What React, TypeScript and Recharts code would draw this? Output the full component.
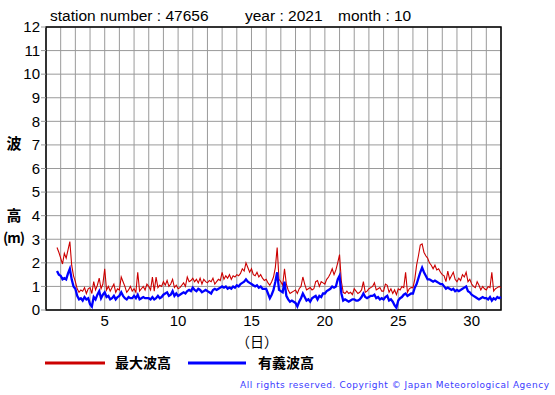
import { LineChart, Line, XAxis, YAxis, CartesianGrid, ReferenceArea } from "recharts";

// 3-hourly samples, first one at day 1 18:00
const startDay = 1.75;
const stepDay = 0.125;

// 最大波高 (m)
const maxWave = [
  2.65, 2.45,
  2.2, 1.95, 2.4, 2.2, 2.55, 2.9, 1.9, 1.45,
  1.2, 0.9, 0.75, 0.85, 0.8, 0.95, 0.7, 0.9,
  0.95, 0.7, 1.2, 0.85, 1.05, 1.35, 0.9, 1.1,
  1.75, 0.85, 1.0, 0.8, 0.95, 1.1, 0.75, 0.9,
  0.85, 1.4, 1.2, 1.0, 0.75, 0.85, 1.0, 0.8,
  0.9, 0.75, 1.6, 0.8, 0.9, 1.0, 0.85, 1.1,
  1.0, 0.85, 1.4, 0.8, 1.4, 0.95, 1.05, 1.0,
  1.2, 1.05, 1.25, 1.0, 1.1, 1.3, 0.95, 1.05,
  0.9, 0.95, 1.05, 1.15, 1.0, 1.4, 1.2, 1.25,
  1.35, 1.2, 1.3, 1.15, 1.35, 1.1, 1.3, 1.2,
  1.15, 1.25, 1.2, 1.35, 1.1, 1.2, 1.3, 1.25,
  1.6, 1.3, 1.45, 1.35, 1.5, 1.3, 1.45, 1.4,
  1.5, 1.45, 1.55, 1.75, 1.65, 2.0, 1.8, 1.6,
  1.75, 1.5, 1.45, 1.6, 1.4, 1.5, 1.35, 1.25,
  1.3, 1.15, 1.05, 1.2, 1.4, 1.8, 2.65, 1.3,
  1.2, 1.05, 1.75, 1.1, 0.85, 0.7, 0.75, 0.8,
  0.85, 0.7, 0.9, 1.0, 1.4, 1.1, 0.85, 0.9,
  0.95, 0.85, 0.9, 1.2, 1.25, 1.0, 1.2, 1.15,
  1.1, 1.3, 1.4, 1.55, 1.75, 1.5, 1.7, 2.0,
  2.35, 1.2, 0.75, 0.7, 0.8, 0.7, 0.75, 0.65,
  0.9, 0.8, 0.7, 0.75, 0.85, 1.2, 0.75, 0.8,
  0.9, 0.95, 1.0, 1.15, 0.85, 0.9, 0.95, 0.8,
  0.8, 1.1, 1.05, 0.75, 0.9, 0.7, 0.85, 0.65,
  0.9, 0.85, 1.0, 0.95, 1.6, 0.75, 0.9, 0.95,
  0.95, 1.3, 1.9, 2.3, 2.75, 2.8, 2.45, 2.3,
  2.2, 2.0, 1.9, 1.75, 1.9, 1.7, 1.75, 1.6,
  1.5, 1.45, 1.2, 1.65, 1.3, 1.45, 1.6, 1.3,
  1.2, 1.35, 1.25, 1.5, 1.4, 1.6, 1.2, 1.3,
  1.1, 1.0, 0.95, 1.2, 1.05, 0.85, 1.0, 0.9,
  0.85, 1.0, 0.95, 1.6, 0.8, 0.9, 0.95, 1.0,
  0.95,
];

// 有義波高 (m)
const sigWave = [
  1.65, 1.5,
  1.45, 1.3, 1.35, 1.3, 1.55, 1.75, 1.3, 1.0,
  0.9, 0.6, 0.45, 0.5, 0.4, 0.55, 0.45, 0.5,
  0.25, 0.15, 0.55, 0.45, 0.65, 0.8, 0.5, 0.65,
  0.75, 0.55, 0.6, 0.45, 0.5, 0.6, 0.45, 0.55,
  0.6, 0.75, 0.6, 0.5, 0.45, 0.55, 0.5, 0.5,
  0.6, 0.5, 0.65, 0.45, 0.5, 0.55, 0.5, 0.5,
  0.5, 0.45, 0.55, 0.45, 0.5, 0.6, 0.5, 0.55,
  0.65, 0.7, 0.75, 0.6, 0.65, 0.8, 0.6, 0.7,
  0.6, 0.65, 0.7, 0.75, 0.7, 0.8, 0.85, 0.8,
  0.95, 0.85, 0.8, 0.9, 0.85, 0.75, 0.8, 0.85,
  0.8, 0.75, 0.7, 0.85, 0.9, 0.85, 0.9, 0.95,
  1.0, 0.95, 1.0, 0.9, 0.95, 0.9, 1.0, 0.95,
  1.05, 1.0, 1.1, 1.15, 1.2, 1.3, 1.2, 1.15,
  1.1, 1.05, 1.0, 1.05, 0.95, 1.0, 0.9, 0.9,
  0.9, 0.7, 0.5, 0.65, 0.85, 1.2, 1.6, 0.85,
  0.8, 0.75, 1.2, 0.6, 0.45, 0.35, 0.4, 0.35,
  0.3, 0.15, 0.35, 0.5, 0.7, 0.55, 0.4, 0.45,
  0.35, 0.5, 0.55, 0.6, 0.45, 0.6, 0.55, 0.7,
  0.7, 0.8, 0.85, 0.9, 1.0, 0.95, 1.0, 1.3,
  1.45, 0.7, 0.4, 0.45, 0.4, 0.35, 0.4, 0.45,
  0.45, 0.4, 0.4, 0.45, 0.55, 0.7, 0.55, 0.5,
  0.55, 0.6, 0.6, 0.65, 0.5, 0.55, 0.45, 0.5,
  0.45, 0.55, 0.6, 0.4, 0.45, 0.35, 0.2, 0.1,
  0.4, 0.5, 0.55, 0.65, 0.7, 0.6, 0.65, 0.7,
  0.7, 0.95, 1.1, 1.35, 1.6, 1.8, 1.6, 1.45,
  1.3, 1.3, 1.25, 1.2, 1.25, 1.2, 1.15, 1.1,
  1.1, 1.0, 0.9, 0.95, 0.9, 0.85, 0.9, 0.8,
  0.85, 0.8, 0.85, 0.9, 0.95, 1.0, 0.8, 0.75,
  0.65, 0.6, 0.55, 0.5, 0.45, 0.5, 0.55, 0.5,
  0.5, 0.45, 0.55, 0.4, 0.5, 0.45, 0.55, 0.5,
  0.55,
];

const dayGrid = [1, 2, 3, 4, 5, 6, 7, 8, 9, 10, 11, 12, 13, 14, 15, 16, 17, 18, 19, 20, 21, 22, 23, 24, 25, 26, 27, 28, 29, 30, 31, 32];
const dayLabels = [5, 10, 15, 20, 25, 30];
const heightTicks = [0, 1, 2, 3, 4, 5, 6, 7, 8, 9, 10, 11, 12];

const data = maxWave.map((v, i) => ({ day: startDay + i * stepDay, max: v, sig: sigWave[i] }));

const latin = "'Liberation Sans', Arial, sans-serif";
const cjk = "'Noto Sans CJK JP', sans-serif";

export default function App() {
  return (
    <div style={{ position: "absolute", left: 0, top: 0, width: 555, height: 395, background: "#fff" }}>
      <LineChart width={555} height={395} data={data} margin={{ top: 27, right: 54, bottom: 55, left: 0 }}>
        <CartesianGrid stroke="#9a9a9a" strokeWidth={1} />
        <XAxis
          dataKey="day"
          type="number"
          domain={[1, 32]}
          ticks={dayGrid}
          interval={0}
          height={30}
          axisLine={false}
          tickSize={0}
          tickMargin={5}
          tickFormatter={(d: number) => (dayLabels.includes(d) ? String(d) : "")}
          tick={{ fill: "#000", fontSize: 15, fontFamily: latin }}
        />
        <YAxis
          type="number"
          domain={[0, 12]}
          ticks={heightTicks}
          interval={0}
          width={46}
          axisLine={false}
          tickSize={5}
          tickMargin={1}
          tickLine={{ stroke: "#9a9a9a" }}
          tick={{ fill: "#000", fontSize: 15, fontFamily: latin }}
        />
        <ReferenceArea x1={1} x2={32} y1={0} y2={12} fill="none" stroke="#000" strokeWidth={1.5} />
        <Line type="linear" dataKey="max" stroke="#cc0000" strokeWidth={1.1} dot={false} isAnimationActive={false} />
        <Line type="linear" dataKey="sig" stroke="#0000ff" strokeWidth={2.3} dot={false} isAnimationActive={false} />
      </LineChart>
      <svg width={555} height={395} style={{ position: "absolute", left: 0, top: 0, pointerEvents: "none" }}>
        <text x={50} y={21} fontSize={15.5} fontFamily={latin} fill="#000">station number : 47656</text>
        <text x={245} y={21} fontSize={15.5} fontFamily={latin} fill="#000">year : 2021</text>
        <text x={338} y={21} fontSize={15.5} fontFamily={latin} fill="#000">month : 10</text>
        <text x={14} y={149} fontSize={15} fontFamily={cjk} fontWeight="bold" textAnchor="middle" fill="#000">波</text>
        <text x={14} y={221} fontSize={15} fontFamily={cjk} fontWeight="bold" textAnchor="middle" fill="#000">高</text>
        <text x={3} y={243} fontSize={14} fontFamily={cjk} fontWeight="bold" fill="#000" textLength={22} lengthAdjust="spacing">(m)</text>
        <text x={257} y={347} fontSize={14} fontFamily={cjk} textAnchor="middle" fill="#000">（日）</text>
        <line x1={45} y1={363} x2={105} y2={363} stroke="#cc0000" strokeWidth={3} />
        <text x={115} y={368} fontSize={14} fontFamily={cjk} fontWeight="bold" fill="#000">最大波高</text>
        <line x1={188} y1={363} x2={246} y2={363} stroke="#0000ff" strokeWidth={3} />
        <text x={258} y={368} fontSize={14} fontFamily={cjk} fontWeight="bold" fill="#000">有義波高</text>
        <text x={240} y={388} fontSize={9} fontFamily="'DejaVu Sans', sans-serif" fill="#3a3aff" textLength={309} lengthAdjust="spacing">
          All rights reserved. Copyright © Japan Meteorological Agency
        </text>
      </svg>
    </div>
  );
}
